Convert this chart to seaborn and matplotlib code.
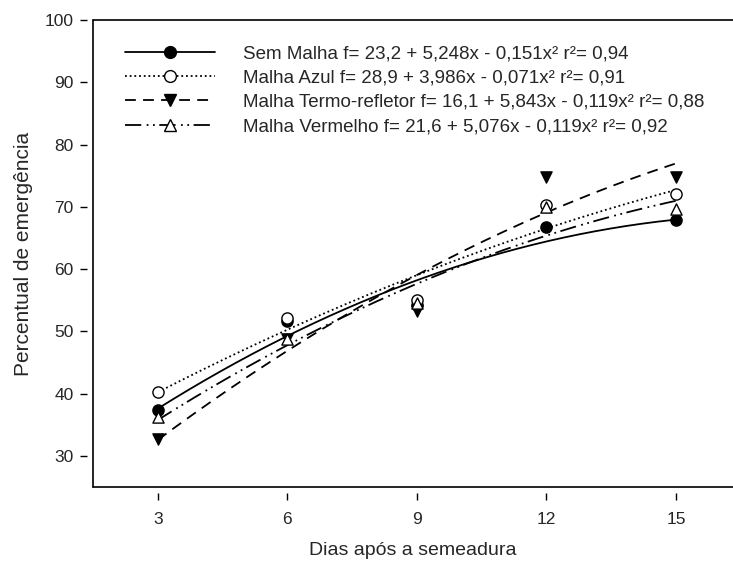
import numpy as np
import pandas as pd
import matplotlib
matplotlib.use("Agg")
import matplotlib.pyplot as plt
import seaborn as sns

# ---- data ----
dias = [3, 6, 9, 12, 15]
sem_malha = [37.3, 51.7, 54.3, 66.7, 67.8]
malha_azul = [40.2, 52.2, 55.1, 70.3, 72.0]
malha_termo = [32.7, 48.8, 53.2, 74.8, 74.8]
malha_vermelho = [36.3, 48.8, 54.6, 69.9, 69.7]

# quadratic fits as printed in the legend (a, b, c) -> a + b x + c x^2
coef_sem = [23.2, 5.248, -0.151]
coef_azul = [28.9, 3.986, -0.071]
coef_termo = [16.1, 5.843, -0.119]
coef_verm = [21.6, 5.076, -0.119]

labels = [
    "Sem Malha f= 23,2 + 5,248x - 0,151x² r²= 0,94",
    "Malha Azul f= 28,9 + 3,986x - 0,071x² r²= 0,91",
    "Malha Termo-refletor f= 16,1 + 5,843x - 0,119x² r²= 0,88",
    "Malha Vermelho f= 21,6 + 5,076x - 0,119x² r²= 0,92",
]
yticks = [30, 40, 50, 60, 70, 80, 90, 100]
xticks = [3, 6, 9, 12, 15]

sns.set_style("white")
plt.rcParams["font.family"] = ["Liberation Sans", "DejaVu Sans"]

fig = plt.figure(figsize=(7.33, 5.62), dpi=100)
ax = fig.add_axes([93 / 733, 1 - 487 / 562, (733 - 93) / 733, (487 - 20) / 562])

series = [sem_malha, malha_azul, malha_termo, malha_vermelho]
coefs = [coef_sem, coef_azul, coef_termo, coef_verm]
styles = ["-", (0, (1, 1.6)), (0, (6, 4)), (0, (9, 3, 1, 2.5, 1, 2.5))]
markers = ["o", "o", "v", "^"]
faces = ["black", "white", "black", "white"]

xs = np.linspace(3, 15, 200)
handles = []
for vals, cf, ls, mk, fc, lab in zip(series, coefs, styles, markers, faces, labels):
    curve = pd.DataFrame({"x": xs, "y": cf[0] + cf[1] * xs + cf[2] * xs ** 2})
    sns.lineplot(data=curve, x="x", y="y", ax=ax, color="black", lw=1.3,
                 linestyle=ls, legend=False)
    pts = pd.DataFrame({"x": dias, "y": vals})
    sns.scatterplot(data=pts, x="x", y="y", ax=ax, marker=mk, s=65,
                    facecolor=fc, edgecolor="black", linewidth=1.0,
                    legend=False, zorder=3)
    h, = ax.plot([], [], color="black", lw=1.3, linestyle=ls, marker=mk,
                 markersize=8.5, markerfacecolor=fc, markeredgecolor="black")
    handles.append(h)

ax.set_xlim(1.5, 16.32)
ax.set_ylim(25, 100)
ax.set_xticks(xticks)
ax.set_yticks(yticks)
ax.tick_params(axis="both", direction="out", length=5, width=1.0,
               color="black", labelsize=12.5)
ax.tick_params(axis="x", pad=9)
ax.tick_params(axis="y", pad=5)

# detached ticks: move (invisible) spines outward, draw frame separately
for s in ["left", "bottom"]:
    ax.spines[s].set_position(("outward", 4))
    ax.spines[s].set_visible(False)
for s in ["top", "right"]:
    ax.spines[s].set_visible(False)
ax.tick_params(axis="both", which="both", left=True, bottom=True)
frame_kw = dict(transform=ax.transAxes, color="black", lw=1.2, clip_on=False)
ax.plot([0, 0], [0, 1], **frame_kw)
ax.plot([0, 1], [0, 0], **frame_kw)
ax.plot([0, 1], [1, 1], **frame_kw)

ax.set_xlabel("Dias após a semeadura", fontsize=14, labelpad=11)
ax.set_ylabel("Percentual de emergência", fontsize=15, labelpad=8)

ax.legend(handles, labels, loc="upper left", bbox_to_anchor=(0.038, 0.962),
          frameon=False, fontsize=13.5, handlelength=4.8, handletextpad=1.5,
          labelspacing=0.38, borderaxespad=0)

fig.savefig("out.png", dpi=100)
